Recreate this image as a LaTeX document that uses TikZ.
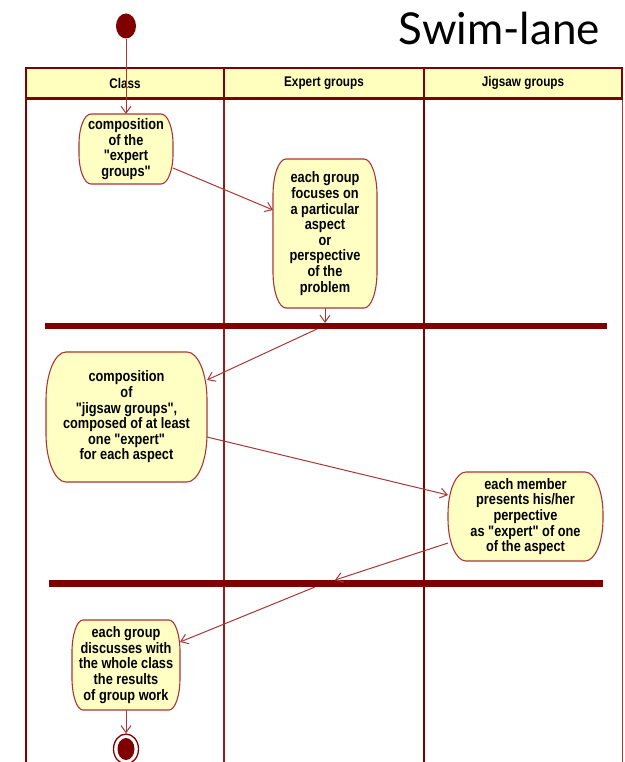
\documentclass[tikz,border=0pt]{standalone}
\usepackage{fontspec}
\usetikzlibrary{arrows.meta,shapes.geometric}
\newfontfamily\uifont[FakeStretch=0.84]{Liberation Sans}
\newfontfamily\titlefont{Lato}

\definecolor{umlred}{RGB}{128,0,0}
\definecolor{lanered}{RGB}{150,28,28}
\definecolor{edgered}{RGB}{170,55,55}
\definecolor{actfill}{RGB}{255,255,196}
\definecolor{hdrfill}{RGB}{255,255,190}

\tikzset{
  actshape/.style={fill=actfill, draw=edgered, line width=1.1pt},
  acttext/.style={inner sep=0pt, outer sep=0pt, align=center,
    font=\uifont\bfseries\fontsize{15.2}{15.6}\selectfont},
  hdrcell/.style={draw=umlred, fill=hdrfill, line width=1.3pt, inner sep=0pt,
    minimum height=30pt, font=\uifont\bfseries\fontsize{14}{15}\selectfont},
  syncbar/.style={fill=umlred, draw=none, inner sep=0pt, outer sep=0pt},
  flow/.style={draw=edgered, line width=1pt,
    -{Straight Barb[length=7pt,width=10pt,line width=1pt]}},
}

% activity state: name, centre x, centre y, width, height, corner rx, corner ry, text
\newcommand\actnode[8]{%
  \path[actshape]
    ({#2-#4/2+#6},{-#3+#5/2}) -- ({#2+#4/2-#6},{-#3+#5/2})
    arc[start angle=90, end angle=0, x radius=#6, y radius=#7]
    -- ({#2+#4/2},{-#3-#5/2+#7})
    arc[start angle=0, end angle=-90, x radius=#6, y radius=#7]
    -- ({#2-#4/2+#6},{-#3-#5/2})
    arc[start angle=270, end angle=180, x radius=#6, y radius=#7]
    -- ({#2-#4/2},{-#3+#5/2-#7})
    arc[start angle=180, end angle=90, x radius=#6, y radius=#7]
    -- cycle;
  \node[acttext, minimum width=#4pt, minimum height=#5pt] (#1) at (#2,-#3) {#8};%
}

\begin{document}
\begin{tikzpicture}[x=1pt,y=1pt]
  \useasboundingbox (0,0) rectangle (624,-762);
  \clip (0,0) rectangle (624,-762);
  \fill[white] (0,0) rectangle (624,-762);

  % title
  \node[anchor=base east, inner sep=0pt, font=\titlefont\fontsize{44}{50}\selectfont]
    (title) at (600,-45) {Swim-lane};

  % lanes
  \draw[umlred, line width=1.5pt] (26,-68) -- (26,-770);
  \draw[lanered, line width=1.6pt] (224,-68) -- (224,-770);
  \draw[umlred, line width=2.6pt] (424,-68) -- (424,-770);
  \draw[edgered, line width=1pt] (622,-68) -- (622,-770);

  % lane headers
  \node[hdrcell, minimum width=198pt] (hclass)  at (125,-83) {\raisebox{-2pt}{Class}};
  \node[hdrcell, minimum width=200pt] (hexpert) at (324,-83) {Expert groups};
  \node[hdrcell, minimum width=198pt] (hjig)    at (523,-83) {Jigsaw groups};
  \draw[umlred, line width=2pt] (hclass.south west) -- (hjig.south east);

  % synchronisation bars
  \node[syncbar, minimum width=562pt, minimum height=6pt] (bar1) at (326,-326) {};
  \node[syncbar, minimum width=554pt, minimum height=7pt] (bar2) at (326,-583.5) {};

  % initial and final states
  \node[fill=umlred, ellipse, minimum width=20pt, minimum height=25pt, inner sep=0pt]
    (start) at (126,-26) {};
  \node[draw=umlred, line width=1.3pt, fill=white, minimum width=25pt,
    minimum height=30pt, inner sep=0pt, ellipse] (finish) at (126,-749) {};
  \fill[umlred] (finish.center) ellipse[x radius=8.5pt, y radius=11pt];

  % activities
  \actnode{n1}{126}{149}{94}{70}{12}{30}{composition\\of the\\"expert\\groups"}
  \actnode{n2}{325}{233.5}{104}{149}{13}{36}{each group\\focuses on\\a particular\\aspect\\or\\perspective\\of the\\problem}
  \actnode{n3}{126.5}{417}{161}{130}{20}{48}{composition\\of\\"jigsaw groups",\\composed of at least\\one "expert"\\for each aspect}
  \actnode{n4}{525.5}{516.5}{155}{89}{18}{42}{each member\\presents his/her\\perpective\\as "expert" of one\\of the aspect}
  \actnode{n5}{126}{665}{108}{90}{11}{32}{each group\\discusses with\\the whole class\\the results\\of group work}

  % control flow
  \draw[flow] (start) -- (n1.north);
  \draw[flow] ([yshift=-19pt]n1.east) -- ([yshift=23.5pt]n2.west);
  \draw[flow] (n2.south) -- (n2.south |- bar1.north);
  \draw[flow] ([xshift=-9pt]bar1.south) -- ([yshift=37pt]n3.east);
  \draw[flow] ([yshift=-20pt]n3.east) -- ([yshift=21.5pt]n4.west);
  \draw[flow] ([yshift=-26.5pt]n4.west) -- ([xshift=9pt]bar2.north);
  \draw[flow] ([xshift=-11pt]bar2.south) -- ([yshift=23pt]n5.east);
  \draw[flow] (n5.south) -- (finish.north);
\end{tikzpicture}
\end{document}
